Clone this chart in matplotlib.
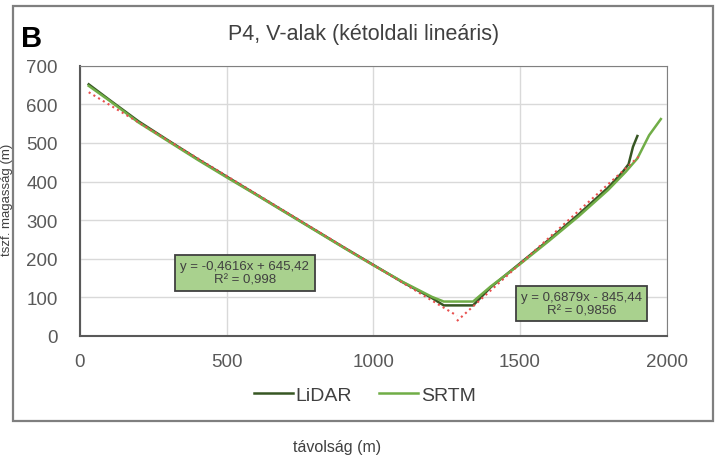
import numpy as np
import matplotlib.pyplot as plt
from matplotlib.patches import Rectangle

plt.rcParams['font.family'] = ['Liberation Sans', 'DejaVu Sans']

# elevation profile P4 (distance in m, elevation in m)
lidar_x = [30, 100, 200, 300, 400, 500, 600, 700, 800, 900, 1000, 1100, 1200,
           1240, 1340, 1400, 1500, 1600, 1700, 1800, 1850, 1870, 1885, 1900]
lidar_y = [652, 612, 556, 507, 459, 413, 367, 321, 275, 229, 184, 139, 98,
           79, 79, 126, 188, 250, 315, 384, 425, 445, 490, 518]
srtm_x = [30, 100, 200, 300, 400, 500, 600, 700, 800, 900, 1000, 1100, 1200,
          1240, 1340, 1400, 1500, 1600, 1700, 1800, 1860, 1900, 1940, 1980]
srtm_y = [648, 610, 553, 505, 457, 411, 366, 320, 274, 228, 183, 140, 101,
          89, 89, 128, 186, 247, 310, 378, 425, 460, 520, 562]

# linear fits for the two valley sides
left_fit = (-0.4616, 645.42)
right_fit = (0.6879, -845.44)
left_range = [30, 1285]
right_range = [1285, 1905]

fit_labels = ['y = -0,4616x + 645,42\nR² = 0,998',
              'y = 0,6879x - 845,44\nR² = 0,9856']

fig = plt.figure(figsize=(7.2, 4.64), dpi=100)
ax = fig.add_axes([0.111, 0.274, 0.815, 0.582])

frame = Rectangle((0.018, 0.09), 0.972, 0.895, transform=fig.transFigure,
                  fill=False, edgecolor='#7f7f7f', lw=1.6)
fig.patches.append(frame)

ax.plot(lidar_x, lidar_y, color='#375623', lw=1.8, label='LiDAR', zorder=3)
ax.plot(srtm_x, srtm_y, color='#70ad47', lw=1.8, label='SRTM', zorder=4)

for (m, b), rng in ((left_fit, left_range), (right_fit, right_range)):
    xs = np.array(rng, dtype=float)
    ax.plot(xs, m * xs + b, color='#e8504f', lw=1.5, ls=':', zorder=5)

box = dict(boxstyle='square,pad=0.4', facecolor='#a9d18e', edgecolor='#404040', lw=1.3)
ax.text(562, 164, fit_labels[0], ha='center', va='center', fontsize=9.5,
        color='#404040', bbox=box, zorder=6, linespacing=1.15)
ax.text(1710, 84, fit_labels[1], ha='center', va='center', fontsize=9.5,
        color='#404040', bbox=box, zorder=6, linespacing=1.15)

ax.set_xlim(0, 2000)
ax.set_ylim(0, 700)
ax.set_xticks(range(0, 2001, 500))
ax.set_yticks(range(0, 701, 100))
ax.grid(True, color='#d9d9d9', lw=1)
ax.set_axisbelow(True)
ax.tick_params(length=0, labelsize=13.5, colors='#595959', pad=12)
ax.tick_params(axis='y', pad=16)
for side in ('top', 'right'):
    ax.spines[side].set_color('#808080')
for side in ('left', 'bottom'):
    ax.spines[side].set_color('#595959')
    ax.spines[side].set_linewidth(1.5)

fig.text(0.505, 0.925, 'P4, V-alak (kétoldali lineáris)', ha='center', va='center',
         fontsize=15.5, color='#404040')
fig.text(0.029, 0.899, 'B', fontsize=21, fontweight='bold', color='black', va='baseline')

fig.legend(loc='center', bbox_to_anchor=(0.507, 0.147), ncol=2, frameon=False,
           fontsize=14, handlelength=2.0, handletextpad=0.15, columnspacing=1.4,
           labelcolor='#404040')

fig.text(0.468, 0.036, 'távolság (m)', ha='center', va='center', fontsize=11.5, color='#404040')
fig.text(0.01, 0.57, 'tszf. magasság (m)', rotation=90, ha='center', va='center',
         fontsize=9.5, color='#404040')

fig.savefig('out.png', dpi=100)
